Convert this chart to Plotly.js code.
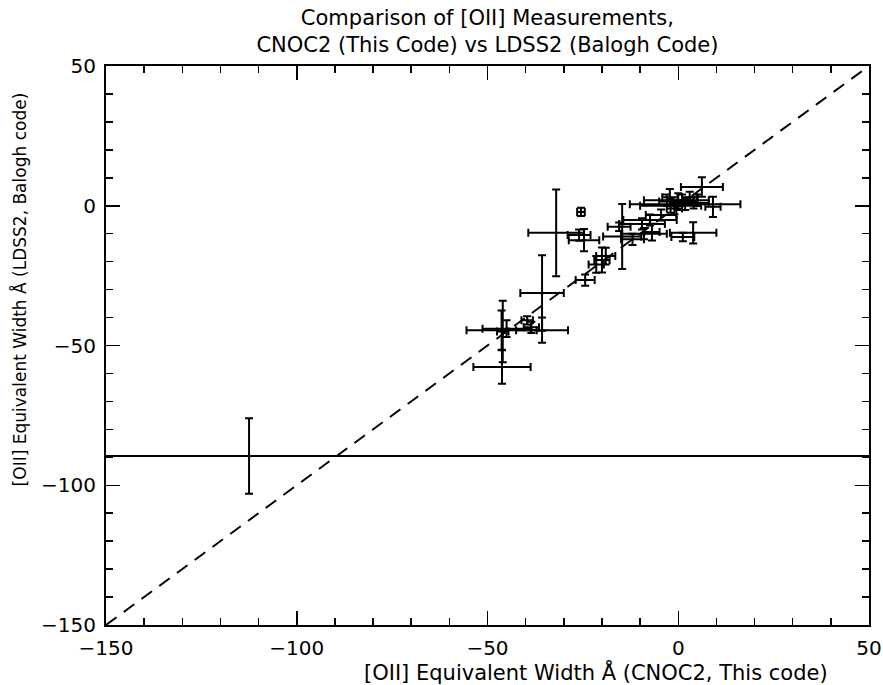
<!DOCTYPE html>
<html>
<head>
<meta charset="utf-8">
<script src="https://cdn.plot.ly/plotly-3.0.1.min.js"></script>
<style>html,body{margin:0;padding:0;background:#fff;}#chart{width:883px;height:685px;}</style>
</head>
<body>
<div id="chart"></div>
<script>
// CNOC2 (this code) EW values
const cnoc2EW = [6.2, 0.0, -2.0, 1.8, 9.1, 4.0, 1.0, -2.2, -4.5, -7.4, -9.5, -6.9, 3.9, 1.2,
  -14.7, -12.0, -9.0, -15.5, -3.0, 3.0, 5.0, -1.0,
  -20.0, -21.5, -19.0, -24.4, -25.5, -24.7, -26.0, -32.0, -35.7,
  -46.3, -45.0, -35.7, -39.6, -38.5, -46.2, -46.0, -112.5];
// LDSS2 (Balogh code) EW values
const ldss2EW = [6.7, 1.5, 0.0, 0.5, -0.4, 1.0, 2.0, 3.0, -3.3, -5.1, -6.5, -9.4, -9.7, -11.2,
  -11.0, -12.0, -10.0, -7.5, 2.0, 3.0, 2.0, -1.0,
  -19.4, -21.0, -18.0, -26.6, -2.2, -12.3, -10.5, -9.7, -31.2,
  -44.5, -44.0, -44.5, -41.0, -43.5, -57.7, -45.0, -89.5];
// x errors
const cnoc2Err = [5.5, 5.0, 8.0, 14.5, 2.0, 4.0, 3.0, 2.0, 4.0, 7.0, 6.0, 2.0, 6.1, 3.0,
  5.0, 3.0, 6.0, 3.0, 6.0, 2.0, 3.0, 2.0,
  2.0, 2.0, 2.5, 2.5, 1.0, 4.0, 3.0, 7.3, 5.7,
  9.2, 6.3, 6.8, 1.5, 2.0, 7.5, 1.5, 300];
// y errors
const ldss2Err = [3.5, 3.0, 2.5, 2.0, 3.6, 2.0, 2.0, 3.0, 2.0, 2.0, 2.0, 3.0, 3.8, 1.5,
  11.6, 2.0, 2.0, 1.5, 2.0, 2.0, 2.0, 2.0,
  4.5, 3.0, 3.0, 2.0, 1.5, 4.0, 2.0, 15.5, 13.5,
  7.0, 3.0, 4.5, 1.5, 2.0, 6.0, 11.0, 13.5];
const lineX = [-150, 50];
const lineY = [-150, 50];
const titleText = 'Comparison of [OII] Measurements,<br>CNOC2 (This Code) vs LDSS2 (Balogh Code)';
const xTitle = '[OII] Equivalent Width Å (CNOC2, This code)';
const yTitle = '[OII] Equivalent Width Å (LDSS2, Balogh code)';

const font = "'DejaVu Sans', 'Liberation Sans', sans-serif";

const traces = [
  {x: lineX, y: lineY, mode: 'lines', line: {color: 'black', width: 2, dash: '13px,9px'}, hoverinfo: 'skip'},
  {x: cnoc2EW, y: ldss2EW, mode: 'markers', marker: {color: 'black', size: 3},
   error_x: {type: 'data', array: cnoc2Err, color: 'black', thickness: 2, width: 4},
   error_y: {type: 'data', array: ldss2Err, color: 'black', thickness: 2, width: 4}}
];

const axisCommon = {
  showgrid: false, zeroline: false, showline: true, linecolor: 'black', linewidth: 2,
  mirror: 'allticks', ticks: 'inside', ticklen: 14, tickwidth: 1.5, tickcolor: 'black',
  dtick: 50, tickfont: {family: font, size: 20, color: 'black'},
  minor: {dtick: 10, ticks: 'inside', ticklen: 7, tickwidth: 1.5, tickcolor: 'black', showgrid: false}
};

const layout = {
  width: 883, height: 685,
  margin: {l: 106, r: 14, t: 66, b: 60},
  paper_bgcolor: 'white', plot_bgcolor: 'white',
  showlegend: false,
  title: {text: titleText,
    font: {family: font, size: 21, color: 'black'}, x: 0.552, xanchor: 'center',
    yref: 'container', y: 0.964, yanchor: 'middle'},
  xaxis: Object.assign({}, axisCommon, {range: [-150, 50], ticklabelstandoff: 4}),
  yaxis: Object.assign({}, axisCommon, {range: [-150, 50], ticklabelstandoff: 4}),
  annotations: [
    {text: xTitle, xref: 'paper', yref: 'paper', x: 0.642, y: -0.084, xanchor: 'center', yanchor: 'middle',
     showarrow: false, font: {family: font, size: 21, color: 'black'}},
    {text: yTitle, xref: 'paper', yref: 'paper', x: -0.113, y: 0.6, xanchor: 'center', yanchor: 'middle',
     textangle: -90, showarrow: false, font: {family: font, size: 17, color: 'black'}}
  ]
};

Plotly.newPlot('chart', traces, layout, {displayModeBar: false, staticPlot: true});
</script>
</body>
</html>
